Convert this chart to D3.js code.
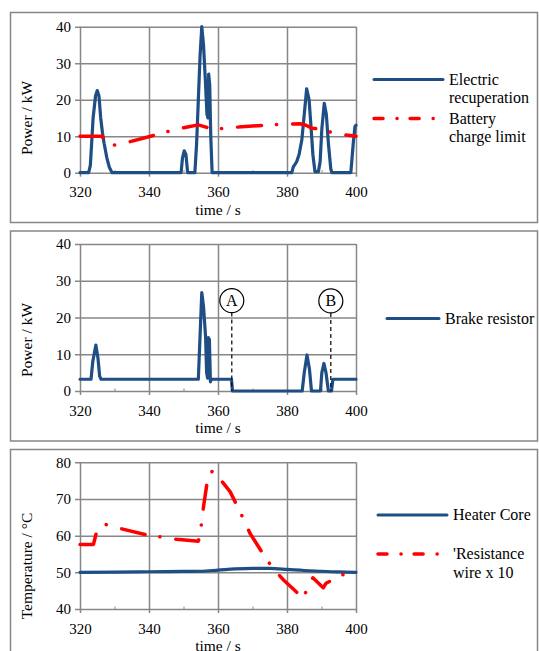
<!DOCTYPE html>
<html>
<head>
<meta charset="utf-8">
<script src="https://cdn.jsdelivr.net/npm/d3@7"></script>
<style>
  body { margin: 0; background: #fff; }
  text { font-family: "Liberation Serif", "Times New Roman", serif; fill: #000; }
  .grid line { stroke: #878787; stroke-width: 1.5; }
  .grid text { font-size: 15px; }
  .minor line { stroke: #878787; stroke-width: 1; }
</style>
</head>
<body>
<div class="chart"></div>
<script>
// x ticks shared by all three panels
var timeTicks = [320, 340, 360, 380, 400];
var minorTicks = [330, 350, 370, 390];
var powerTicks = [0, 10, 20, 30, 40];
var tempTicks = [40, 50, 60, 70, 80];

// panel 1: [time s, power kW]
var recuperation = [
  [320, 0], [322.5, 0], [323, 2], [323.8, 15], [324.5, 21], [325, 22.5], [325.5, 21],
  [326, 15], [326.5, 11], [327, 8], [327.8, 4], [328.5, 1.5], [329.3, 0],
  [349.3, 0], [349.7, 4], [350.2, 6], [350.7, 5], [351.2, 0],
  [353.3, 0], [353.8, 8], [354.3, 20], [354.8, 32], [355.3, 40], [355.8, 35], [356.3, 26],
  [356.8, 16], [357.1, 15], [357.3, 27], [357.6, 24], [357.9, 10], [358.3, 0],
  [381.4, 0], [381.8, 1.5], [382.8, 3], [383.5, 5], [384.3, 9], [385, 16], [385.7, 23],
  [386.4, 20], [387, 12], [387.5, 5], [388.1, 0.3], [389.1, 0.3], [389.6, 3], [390.1, 12],
  [390.8, 19], [391.4, 16], [392, 8], [392.7, 1], [393, 0],
  [398.5, 0], [399.2, 8], [399.7, 12.6], [400, 13]
];
var chargeLimit = [
  [320, 10], [326.5, 10], [327, 8.5], [330, 7.6], [334.5, 8.5], [341.7, 10.3], [346.3, 11.5],
  [350.4, 12.4], [354.3, 13.1], [356.5, 12.5], [358.2, 11.9], [362.5, 12.2], [366.9, 12.6],
  [375.1, 13.1], [379.2, 13.3], [383.8, 13.4], [385.5, 13], [387.2, 12.2], [390.5, 11.9],
  [392, 11.3], [395.1, 10.5], [400, 10]
];

// panel 2
var brakeResistor = [
  [320, 3.2], [323.2, 3.2], [323.7, 8], [324.6, 12.5], [325.2, 9], [325.7, 4], [326.1, 3.2],
  [354.3, 3.2], [354.8, 15], [355.3, 26.8], [355.8, 23], [356.4, 14.8], [356.7, 5], [357, 3.5],
  [357.2, 14.5], [357.5, 14], [357.8, 2.5], [358, 3.2],
  [363.9, 3.2], [364.2, 0], [384.4, 0], [385, 5], [385.8, 9.8], [386.5, 6], [387.1, 0],
  [389.7, 0], [390.1, 5], [390.7, 7.5], [391.3, 5], [392, 0], [392.9, 0], [393.3, 3.2], [400, 3.2]
];
var markers = [
  { label: "A", t: 364, v: 24.6 },
  { label: "B", t: 392.7, v: 24.5 }
];

// panel 3: [time s, temperature °C]
var heaterCore = [
  [320, 50], [330, 50.05], [340, 50.15], [350, 50.25], [355, 50.3], [360, 50.6], [365, 50.95],
  [370, 51.1], [375, 51.05], [380, 50.8], [385, 50.5], [390, 50.3], [395, 50.1], [400, 50]
];
var resistanceWire = [
  [320, 57.6], [323.9, 57.6], [324.8, 61], [327.2, 63.1], [331.4, 62], [339.3, 60.2],
  [343.7, 59.6], [348, 59], [354.3, 58.5], [354.8, 60.2], [355.3, 64], [355.8, 67.9],
  [357, 75.5], [358.4, 77.7], [361.3, 74.6], [363.5, 72], [365.4, 68.4], [367.3, 64.7],
  [369.3, 60.6], [373.4, 54.5], [375.9, 51.1], [379, 47.9], [384.7, 42.9], [386.5, 47],
  [387.5, 48.5], [390.5, 45.8], [391.3, 47], [393.7, 48.2], [397.6, 50], [400, 51.3]
];

var W = 539, H = 651;
var blue = "#1f4e85", red = "#ff0000";
var serif = "Liberation Serif, Times New Roman, serif";
var dashDot = "24,15,0.1,16";

var svg = d3.select(".chart").append("svg")
    .attr("width", W)
    .attr("height", H);

var xScale = d3.scaleLinear().domain([320, 400]).range([80, 356]);

function panel(p) {
  var g = svg.append("g");
  var yScale = d3.scaleLinear().domain(p.domain).range([p.bottom, p.top]);
  var h = p.bottom - p.top;

  // outer frame
  g.append("rect")
      .attr("x", 10.5).attr("y", p.frameTop + 0.5)
      .attr("width", 527).attr("height", p.frameBottom - p.frameTop)
      .attr("fill", "none").attr("stroke", "#868686").attr("stroke-width", 1.5);

  // horizontal grid + y labels
  g.append("g")
      .attr("class", "grid")
      .attr("transform", "translate(75,0)")
      .call(d3.axisLeft(yScale).tickValues(p.yTicks).tickSize(-(356 - 75)).tickPadding(4))
      .attr("font-family", serif).attr("font-size", 15)
      .call(function(a) { a.select(".domain").remove(); });

  // vertical grid + x labels
  g.append("g")
      .attr("class", "grid")
      .attr("transform", "translate(0," + (p.bottom + 4) + ")")
      .call(d3.axisBottom(xScale).tickValues(timeTicks).tickSize(-(h + 4)).tickPadding(10))
      .attr("font-family", serif).attr("font-size", 15)
      .call(function(a) { a.select(".domain").remove(); });

  g.append("g")
      .attr("class", "minor")
      .attr("transform", "translate(0," + p.bottom + ")")
      .call(d3.axisBottom(xScale).tickValues(minorTicks).tickSize(-2.5).tickFormat(""))
      .call(function(a) { a.select(".domain").remove(); });

  g.append("text")
      .attr("x", 218).attr("y", p.bottom + 42)
      .attr("text-anchor", "middle")
      .style("font-size", "15.5px")
      .text("time / s");

  g.append("text")
      .attr("transform", "translate(32," + p.titleY + ") rotate(-90)")
      .attr("text-anchor", "middle")
      .style("font-size", "15.5px")
      .text(p.yTitle);

  var line = d3.line()
      .x(function(d) { return xScale(d[0]); })
      .y(function(d) { return yScale(d[1]); });

  p.series.forEach(function(s) {
    g.append("path")
        .datum(s.data)
        .attr("fill", "none")
        .attr("stroke", s.color)
        .attr("stroke-width", s.dash ? 3.5 : 3.2)
        .attr("stroke-linejoin", "round")
        .attr("stroke-linecap", "round")
        .attr("stroke-dasharray", s.dash || null)
        .attr("d", line.curve(s.smooth ? d3.curveMonotoneX : d3.curveLinear));
  });

  // legend
  p.legend.forEach(function(l) {
    g.append("line")
        .attr("x1", l.x1).attr("x2", l.x2).attr("y1", l.y).attr("y2", l.y)
        .attr("stroke", l.color).attr("stroke-width", l.dash ? 3.5 : 3)
        .attr("stroke-linecap", "round")
        .attr("stroke-dasharray", l.dash || null);
    var t = g.append("text")
        .attr("x", l.x2 + 6).attr("y", l.y + 5)
        .style("font-size", "16px");
    l.text.forEach(function(s, i) {
      t.append("tspan").attr("x", l.x2 + 6).attr("dy", i ? 18.5 : 0).text(s);
    });
  });

  return yScale;
}

panel({
  frameTop: 12, frameBottom: 222, top: 26.7, bottom: 172.7,
  domain: [0, 40], yTicks: powerTicks, yTitle: "Power / kW", titleY: 118,
  series: [
    { data: recuperation, color: blue },
    { data: chargeLimit, color: red, dash: dashDot }
  ],
  legend: [
    { x1: 374, x2: 443, y: 79.5, color: blue, text: ["Electric", "recuperation"] },
    { x1: 374, x2: 443, y: 118.5, color: red, dash: "9,14,0.1,13", text: ["Battery", "charge limit"] }
  ]
});

var y2 = panel({
  frameTop: 230.5, frameBottom: 440.5, top: 244, bottom: 391,
  domain: [0, 40], yTicks: powerTicks, yTitle: "Power / kW", titleY: 340,
  series: [
    { data: brakeResistor, color: blue }
  ],
  legend: [
    { x1: 387, x2: 439, y: 318.5, color: blue, text: ["Brake resistor"] }
  ]
});

// A / B markers
var mk = svg.append("g").selectAll("g").data(markers).join("g");
mk.append("line")
    .attr("x1", function(d) { return xScale(d.t); })
    .attr("x2", function(d) { return xScale(d.t); })
    .attr("y1", function(d) { return y2(d.v) + 12; })
    .attr("y2", y2(0))
    .attr("stroke", "#000").attr("stroke-width", 1.2).attr("stroke-dasharray", "4,3");
mk.append("circle")
    .attr("cx", function(d) { return xScale(d.t); })
    .attr("cy", function(d) { return y2(d.v); })
    .attr("r", 12)
    .attr("fill", "#fff").attr("stroke", "#000").attr("stroke-width", 1.2);
mk.append("text")
    .attr("x", function(d) { return xScale(d.t); })
    .attr("y", function(d) { return y2(d.v) + 5.5; })
    .attr("text-anchor", "middle")
    .style("font-size", "16px")
    .text(function(d) { return d.label; });

panel({
  frameTop: 449, frameBottom: 700, top: 462.3, bottom: 609,
  domain: [40, 80], yTicks: tempTicks, yTitle: "Temperature / °C", titleY: 566,
  series: [
    { data: heaterCore, color: blue, smooth: true },
    { data: resistanceWire, color: red, dash: dashDot }
  ],
  legend: [
    { x1: 378, x2: 447, y: 515, color: blue, text: ["Heater Core"] },
    { x1: 378, x2: 447, y: 554, color: red, dash: "9,14,0.1,13", text: ["'Resistance", "wire x 10"] }
  ]
});
</script>
</body>
</html>
